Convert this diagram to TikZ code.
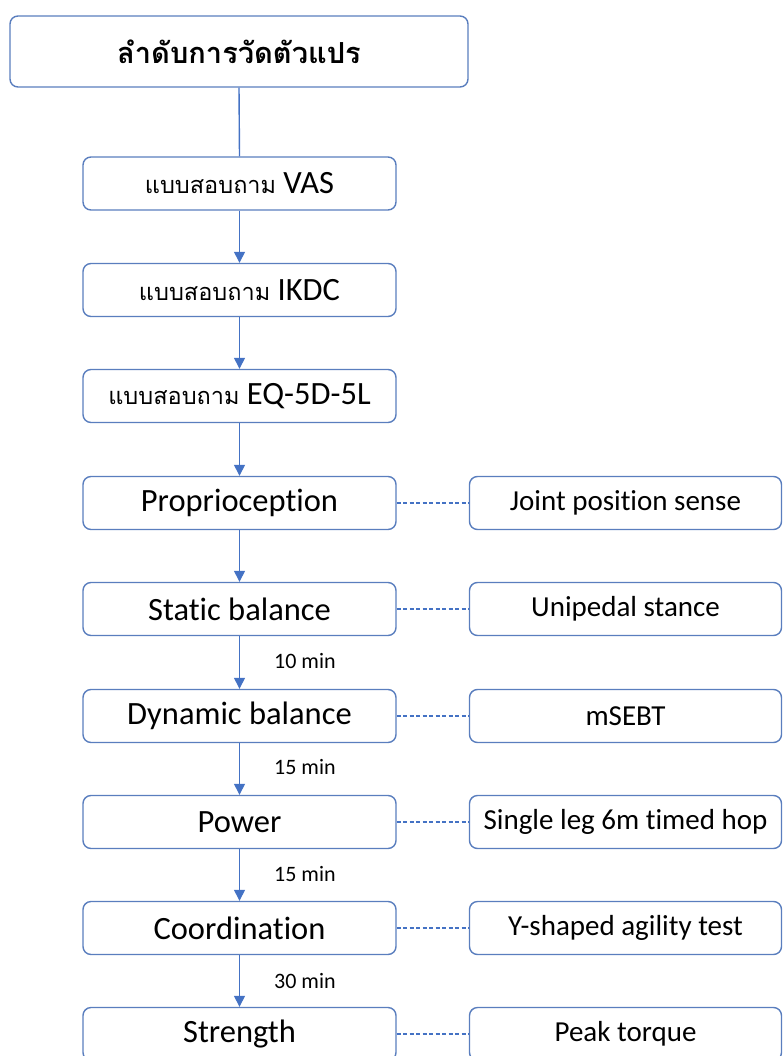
\documentclass[tikz,border=0pt]{standalone}
\usepackage{fontspec}
\setmainfont{Carlito}[RawFeature={-liga;-clig;-calt}]
\newfontfamily\thaifont[Script=Thai]{Loma}
\usetikzlibrary{arrows.meta}
\definecolor{boxline}{HTML}{5A7EBE}
\definecolor{linkblue}{HTML}{4472C4}
\newcommand{\thq}{{\thaifont\fontsize{23.5}{28}\selectfont แบบสอบถาม}}
\tikzset{
  box/.style={draw=boxline, line width=1.4pt, rounded corners=8pt, fill=white, inner sep=0pt, align=center},
  leftbox/.style={box, minimum width=313pt, minimum height=53pt, font=\fontsize{32.5}{38}\selectfont},
  rightbox/.style={box, minimum width=312pt, minimum height=53pt, font=\fontsize{29}{34}\selectfont},
  flow/.style={draw=linkblue, line width=1.4pt, -{Triangle[length=11pt,width=11pt]}},
  link/.style={draw=linkblue, line width=1.3pt, dash pattern=on 4pt off 2.5pt},
  gap/.style={font=\fontsize{22}{26}\selectfont, anchor=west, inner sep=0pt}
}
\begin{document}
\begin{tikzpicture}[x=1pt,y=-1pt]
\useasboundingbox (0,0) rectangle (783,1056);
\node[box, minimum width=458pt, minimum height=71pt, font=\thaifont\bfseries\fontsize{29}{34}\selectfont] (title) at (239,51.5) {ลำดับการวัดตัวแปร};
\node[leftbox] (vas) at (239.5,183.5) {\thq{} VAS};
\node[leftbox] (ikdc) at (239.5,290) {\thq{} IKDC};
\node[leftbox] (eq) at (239.5,396) {\thq{} EQ-5D-5L};
\node[leftbox] (prop) at (239.5,503) {Proprioception};
\node[leftbox] (stat) at (239.5,609) {Static balance};
\node[leftbox] (dyn) at (239.5,716) {Dynamic balance};
\node[leftbox] (pow) at (239.5,822) {Power};
\node[leftbox] (coord) at (239.5,928) {Coordination};
\node[leftbox] (str) at (239.5,1034) {Strength};

\node[rightbox] (jps) at (625.5,503) {Joint position sense};
\node[rightbox] (uni) at (625.5,609) {Unipedal stance};
\node[rightbox] (mse) at (625.5,716) {mSEBT};
\node[rightbox] (hop) at (625.5,822) {Single leg 6m timed hop};
\node[rightbox] (yag) at (625.5,928) {Y-shaped agility test};
\node[rightbox] (pk) at (625.5,1034) {Peak torque};

\draw[draw=linkblue, line width=1.4pt] (title.south) -- (vas.north);
\draw[flow] (vas) -- (ikdc);
\draw[flow] (ikdc) -- (eq);
\draw[flow] (eq) -- (prop);
\draw[flow] (prop) -- (stat);
\draw[flow] (stat) -- (dyn);
\draw[flow] (dyn) -- (pow);
\draw[flow] (pow) -- (coord);
\draw[flow] (coord) -- (str);

\node[gap] at (274,661) {10 min};
\node[gap] at (274,767) {15 min};
\node[gap] at (274,874) {15 min};
\node[gap] at (274,981) {30 min};

\draw[link] (prop) -- (jps);
\draw[link] (stat) -- (uni);
\draw[link] (dyn) -- (mse);
\draw[link] (pow) -- (hop);
\draw[link] (coord) -- (yag);
\draw[link] (str) -- (pk);
\end{tikzpicture}
\end{document}
